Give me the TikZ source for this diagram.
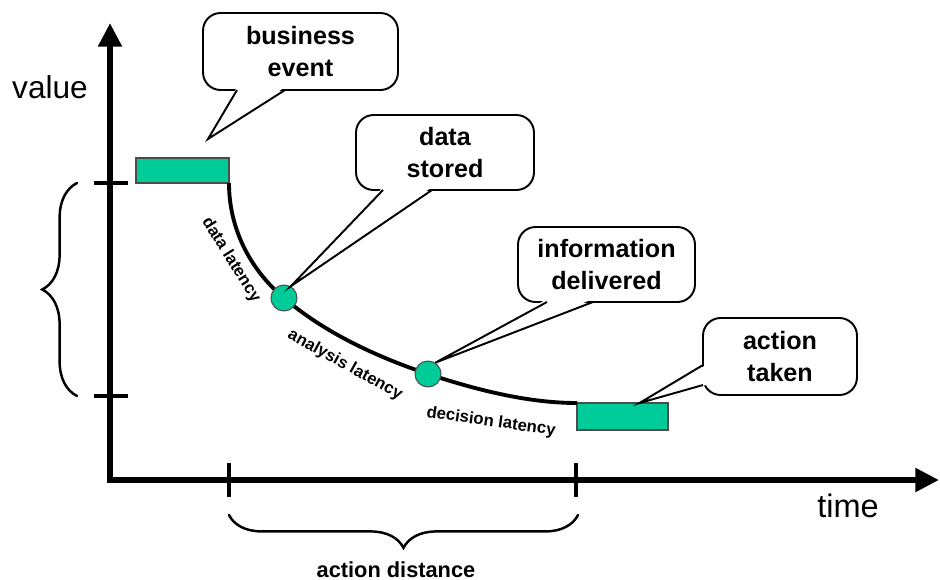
\documentclass[tikz,border=0pt]{standalone}
\usepackage{fontspec}
\setmainfont{Liberation Sans}
\usetikzlibrary{arrows.meta,calc,decorations.pathreplacing}
\definecolor{latgreen}{RGB}{0,204,153}
\tikzset{
	bubble/.style={draw, fill=white, rounded corners=10pt, line width=1.1pt, outer sep=0pt, inner sep=0pt, align=center, font=\fontsize{14.3}{18.7}\selectfont\bfseries},
	bubbletail/.style={line width=1.1pt},
	stage/.style={draw=black!70, fill=latgreen, line width=.6pt, outer sep=0pt, inner sep=0pt},
	hit/.style={circle, draw=black!70, fill=latgreen, minimum size=.52cm, inner sep=0pt, line width=.6pt},
	lat/.style={font=\fontsize{9.5}{11}\selectfont\bfseries, inner sep=0pt},
	axisline/.style={line width=3.7pt, -{Triangle[length=13.5pt,width=13pt]}},
	axtick/.style={line width=1.8pt},
	curly/.style={decorate, line width=1.4pt, line cap=round, decoration={brace, amplitude=#1}},
}
\begin{document}
\begin{tikzpicture}[x=0.02cm, y=-0.02cm]
	\useasboundingbox (0,0) rectangle (940,579);
	\coordinate (origin) at (110,480);
	\coordinate (ytop)   at (110,23);
	\coordinate (xend)   at (939,480);
	\draw[axisline] (origin) ++(0,3)  -- (ytop);
	\draw[axisline] (origin) ++(-3,0) -- (xend);
	\draw[axtick] (94,183)  -- (128,183);
	\draw[axtick] (94,396)  -- (128,396);
	\draw[axtick] (229,463) -- (229,497);
	\draw[axtick] (576,463) -- (576,497);
	\draw[curly=19.8pt] (77,396)  -- (77,183);
	\draw[curly=18.7pt] (578,515) -- (229,515);
	\node[font=\fontsize{18}{20}\selectfont, anchor=base]   (valuelabel) at (50,98)   {value};
	\node[font=\fontsize{18.5}{20}\selectfont, anchor=base] (timelabel)  at (848,517) {time};
	\node[font=\fontsize{12.4}{14}\selectfont\bfseries, anchor=base] (distlabel) at (396,577) {action distance};
	\node[stage, minimum width=1.86cm, minimum height=.5cm]  (start)  at (182.5,170.5) {};
	\node[stage, minimum width=1.82cm, minimum height=.54cm] (finish) at (622.5,416.5) {};
	\coordinate (s1) at (284,298);
	\coordinate (s2) at (428,374);
	\draw[line width=2.2pt] (start.south east) .. controls (229,228) and (249.5,269) .. (s1)
		.. controls (325,333) and (377,357) .. (s2)
		.. controls (475.5,389.5) and (527,403) .. (finish.north west);
	\node[hit] (stored)    at (s1) {};
	\node[hit] (delivered) at (s2) {};
	\node[lat, rotate=-58] (datalat)     at (231,260) {data latency};
	\node[lat, rotate=-29] (analysislat) at (345,365) {analysis latency};
	\node[lat, rotate=-8]  (decisionlat) at (491,422) {decision latency};
	\node[bubble, minimum width=3.9cm,  minimum height=1.54cm] (event)     at (300.5,51.5) {business\\event};
	\node[bubble, minimum width=3.56cm, minimum height=1.5cm]  (storedmsg) at (445,152.5)  {data\\stored};
	\node[bubble, minimum width=3.54cm, minimum height=1.5cm]  (delivmsg)  at (606.5,264.5) {information\\delivered};
	\node[bubble, minimum width=3.08cm, minimum height=1.54cm] (takenmsg)  at (780,356.5)  {action\\taken};
	\coordinate (eventtip) at (208,139);
	\coordinate (takentip) at ($(finish.north)+(17,0)$);
	\fill[white] ($(event.south west)+(34,-3)$) -- (eventtip) -- ($(event.south west)+(82,-3)$) -- cycle;
	\draw[bubbletail] ($(event.south west)+(34,0)$) -- (eventtip) -- ($(event.south west)+(82,0)$);
	\fill[white] ($(storedmsg.south west)+(27,-3)$) -- (stored.60) -- ($(storedmsg.south west)+(76,-3)$) -- cycle;
	\draw[bubbletail] ($(storedmsg.south west)+(27,0)$) -- (stored.60) -- ($(storedmsg.south west)+(76,0)$);
	\fill[white] ($(delivmsg.south west)+(29,-3)$) -- (delivered.57) -- ($(delivmsg.south west)+(75,-3)$) -- cycle;
	\draw[bubbletail] ($(delivmsg.south west)+(29,0)$) -- (delivered.57) -- ($(delivmsg.south west)+(75,0)$);
	\fill[white] ($(takenmsg.north west)+(3,47)$) -- (takentip) -- ($(takenmsg.north west)+(3,67)$) -- cycle;
	\draw[bubbletail] ($(takenmsg.north west)+(0,47)$) -- (takentip) -- ($(takenmsg.north west)+(0,67)$);
\end{tikzpicture}
\end{document}
